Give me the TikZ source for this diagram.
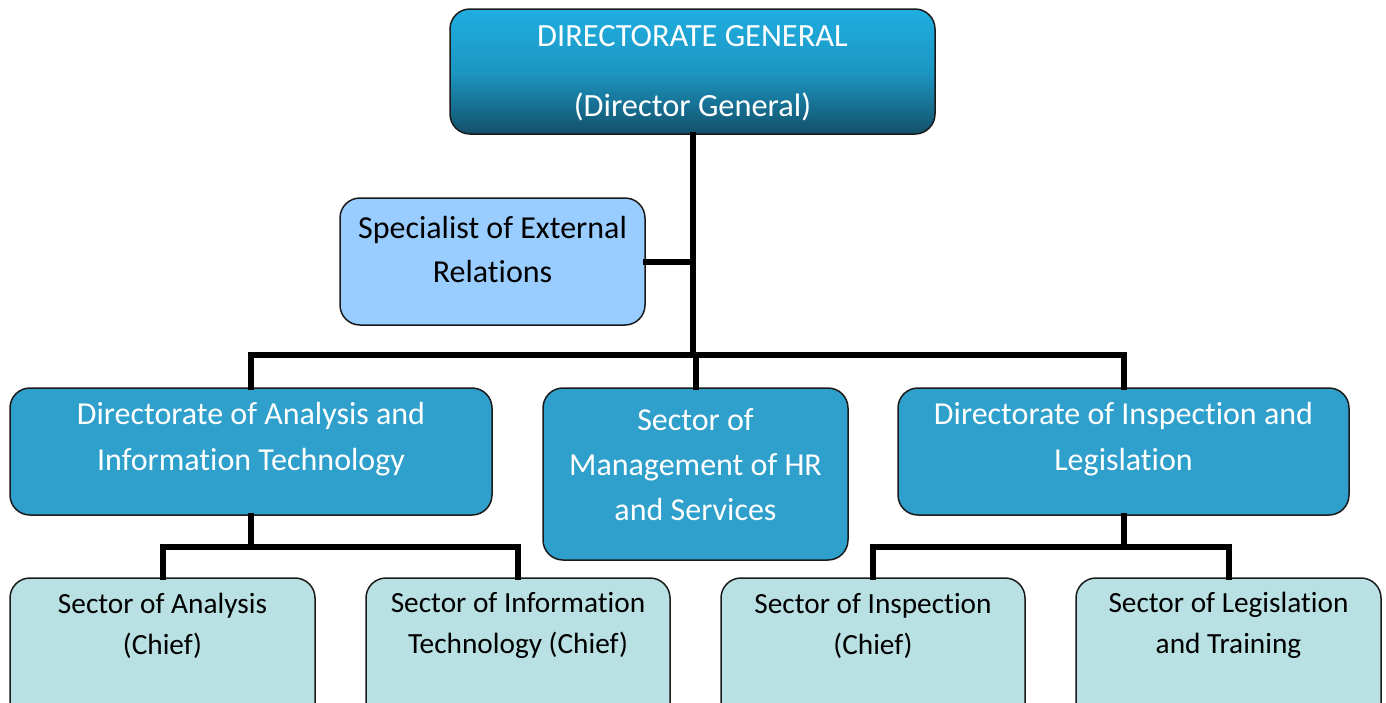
\documentclass[tikz,border=0pt]{standalone}
\usepackage{fontspec}
\setmainfont{Carlito}[RawFeature={-liga;-clig;-dlig;-rlig;-calt}]
\definecolor{topA}{HTML}{1FAEE0}
\definecolor{topB}{HTML}{13506A}
\definecolor{specC}{HTML}{99CCFF}
\definecolor{midC}{HTML}{2FA0CB}
\definecolor{lowC}{HTML}{B9E0E3}
\definecolor{edgeC}{HTML}{1A1A1A}
\tikzset{
  box/.style={draw=edgeC, line width=1.5pt, rounded corners=20pt, inner sep=0pt},
  topbox/.style={box, top color=topA, bottom color=topB, middle color=topA!75!topB},
  specbox/.style={box, fill=specC},
  midbox/.style={box, fill=midC},
  lowbox/.style={box, fill=lowC},
  txt/.style={align=center, inner sep=0pt},
  conn/.style={line width=6pt, line cap=rect}
}
\begin{document}
\begin{tikzpicture}[x=1pt,y=-1pt]
\useasboundingbox (0,0) rectangle (1386,702);
\clip (0,0) rectangle (1386,702);
% boxes
\node[topbox, minimum width=485pt, minimum height=125pt] (top) at (692.5,71.5) {};
\node[specbox, minimum width=305pt, minimum height=127pt] (spec) at (492.5,261.5) {};
\node[midbox, minimum width=482pt, minimum height=127pt] (dait) at (251,451.5) {};
\node[midbox, minimum width=305pt, minimum height=172pt] (hr) at (695.5,474) {};
\node[midbox, minimum width=451pt, minimum height=127pt] (dil) at (1123.5,451.5) {};
\node[lowbox, minimum width=305pt, minimum height=150pt] (sa) at (162.5,653) {};
\node[lowbox, minimum width=304pt, minimum height=150pt] (sit) at (518,653) {};
\node[lowbox, minimum width=304pt, minimum height=150pt] (si) at (873,653) {};
\node[lowbox, minimum width=305pt, minimum height=150pt] (slt) at (1228.5,653) {};
% texts
\node[txt, text=white, font=\fontsize{32.4}{70}\selectfont] (ttop) at (692.5,73) {DIRECTORATE GENERAL\\(Director General)};
\node[txt, font=\fontsize{32}{44}\selectfont] (tspec) at (492.5,250) {Specialist of External\\Relations};
\node[txt, text=white, font=\fontsize{32}{46}\selectfont] (tdait) at (251,439) {Directorate of Analysis and\\Information Technology};
\node[txt, text=white, font=\fontsize{32}{45}\selectfont] (thr) at (695.5,465) {Sector of\\Management of HR\\and Services};
\node[txt, text=white, font=\fontsize{32}{46}\selectfont] (tdil) at (1123.5,439) {Directorate of Inspection and\\Legislation};
\node[txt, font=\fontsize{29.3}{41}\selectfont] (tsa) at (162.5,625.5) {Sector of Analysis\\(Chief)};
\node[txt, font=\fontsize{29.3}{41}\selectfont] (tsit) at (518,625.5) {Sector of Information\\Technology (Chief)};
\node[txt, font=\fontsize{29.3}{41}\selectfont] (tsi) at (873,625.5) {Sector of Inspection\\(Chief)};
\node[txt, font=\fontsize{29.3}{41}\selectfont] (tslt) at (1228.5,625.5) {Sector of Legislation\\and Training};
% connectors
\coordinate (bus) at (0,355);
\coordinate (busL) at (0,547);
\draw[conn] (top.south) -- (top.south |- bus);
\draw[conn] (spec.east) -- (spec.east -| top.south);
\draw[conn] (dait.north) -- (dait.north |- bus) -- (dil.north |- bus) -- (dil.north);
\draw[conn] (hr.north) -- (hr.north |- bus);
\draw[conn] (dait.south) -- (dait.south |- busL);
\draw[conn] (sa.north) -- (sa.north |- busL) -- (sit.north |- busL) -- (sit.north);
\draw[conn] (dil.south) -- (dil.south |- busL);
\draw[conn] (si.north) -- (si.north |- busL) -- (slt.north |- busL) -- (slt.north);
\end{tikzpicture}
\end{document}
